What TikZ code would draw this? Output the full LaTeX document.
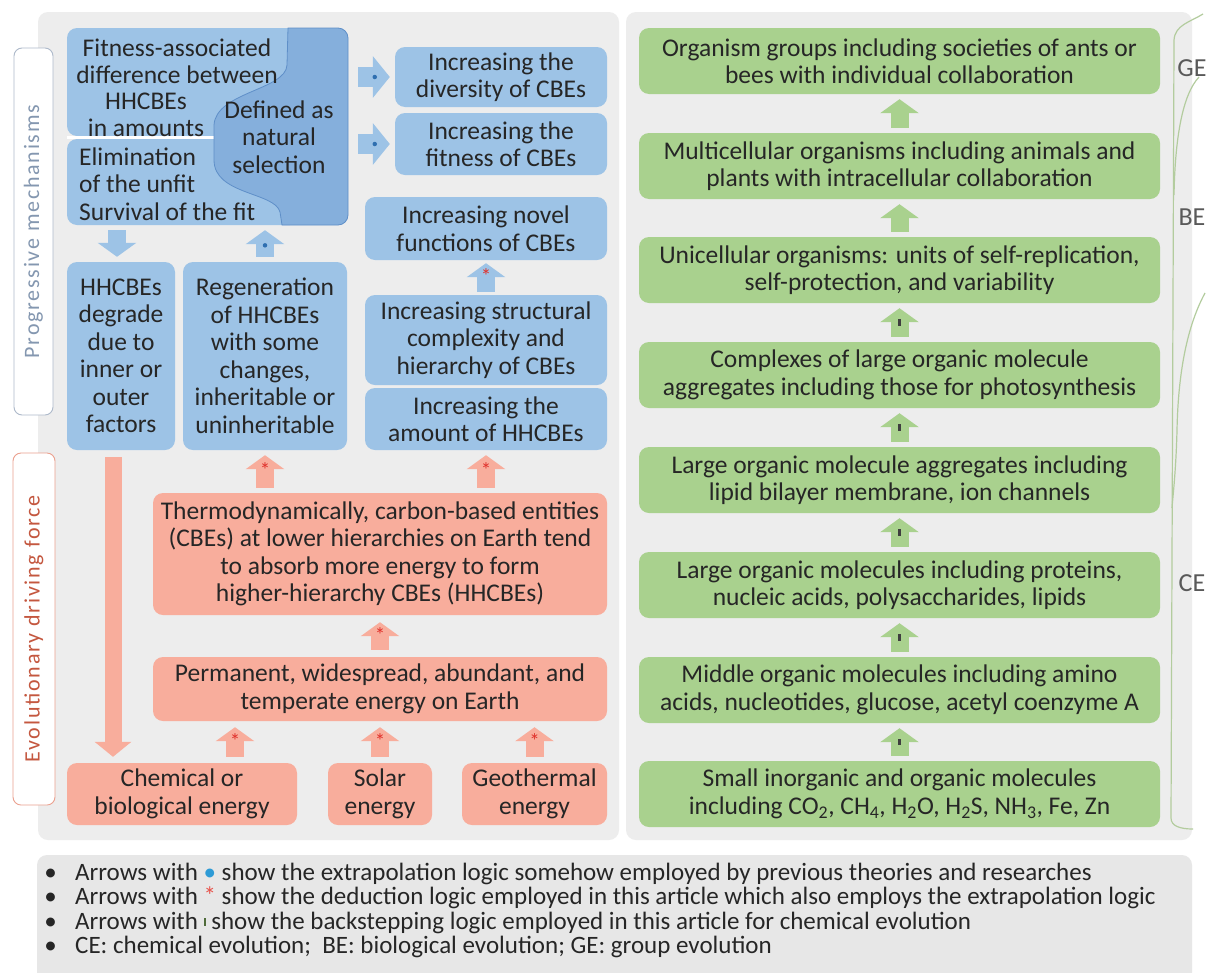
\documentclass[tikz,border=0pt]{standalone}
\usepackage{fontspec}
\setmainfont{Carlito}
\newfontfamily\spacedfont[LetterSpace=8]{Carlito}
\usetikzlibrary{arrows.meta}
\definecolor{panel}{HTML}{EDEDED}
\definecolor{legendbg}{HTML}{E7E7E7}
\definecolor{bluebox}{HTML}{9DC3E6}
\definecolor{bluedark}{HTML}{85AFDC}
\definecolor{blueedge}{HTML}{5F8FC8}
\definecolor{salmon}{HTML}{F8AD9C}
\definecolor{greenbox}{HTML}{A9D18E}
\definecolor{txt}{HTML}{262626}
\definecolor{pmtext}{HTML}{8497B0}
\definecolor{pmedge}{HTML}{ADB9CA}
\definecolor{edftext}{HTML}{C4573F}
\definecolor{edfedge}{HTML}{EBA08E}
\definecolor{dotblue}{HTML}{2F6FB0}
\definecolor{legdot}{HTML}{2E9BD6}
\definecolor{astred}{HTML}{E0302A}
\definecolor{legred}{HTML}{E8524A}
\definecolor{tickc}{HTML}{3F3F3F}
\definecolor{legtick}{HTML}{4F6B3A}
\definecolor{bracec}{HTML}{B3CC9E}
\definecolor{labgray}{HTML}{595959}
\newcommand\boxfont{\fontsize{25.5}{27.5}\selectfont}
\newcommand\legfont{\fontsize{25}{24}\selectfont}
\newcommand\legdotmark{\textcolor{legdot}{•}}
\newcommand\legastmark{\textcolor{legred}{*}}
\newcommand\legtickmark{\textcolor{legtick}{\rule[3.5pt]{2pt}{7.5pt}}}
\begin{document}
\begin{tikzpicture}[x=1pt,y=-1pt,
  cbox/.style={rounded corners=10pt, inner sep=0pt, align=center, text=txt, font=\boxfont},
  bb/.style={cbox, fill=bluebox},
  sb/.style={cbox, fill=salmon},
  gb/.style={cbox, fill=greenbox, minimum width=521pt, minimum height=66pt},
  uparr/.style={line width=18pt, -{Triangle[width=38pt,length=14pt]}, shorten <=5pt, shorten >=5pt},
  barr/.style={uparr, draw=bluebox},
  sarr/.style={uparr, draw=salmon},
  garr/.style={uparr, draw=greenbox},
  rarr/.style={line width=20pt, draw=bluebox, -{Triangle[width=41pt,length=17pt]}, shorten <=10pt, shorten >=5pt},
  ast/.style={inner sep=0pt, text=astred, font=\fontsize{21}{21}\selectfont},
  bdot/.style={circle, fill=dotblue, inner sep=0pt, minimum size=4.5pt},
  tickmark/.style={fill=tickc, inner sep=0pt, minimum width=2.2pt, minimum height=6.5pt},
  lab/.style={text=labgray, font=\fontsize{26}{26}\selectfont, inner sep=0pt},
  legtext/.style={anchor=base west, inner sep=0pt, font=\legfont, text=txt},
  bracel/.style={draw=bracec, line width=1.2pt}
]
\useasboundingbox (0,0) rectangle (1209,972);
\fill[white] (0,0) rectangle (1209,972);

% panels
\fill[panel, rounded corners=10pt] (38,12) rectangle (619,840);
\fill[panel, rounded corners=10pt] (626,12) rectangle (1192,840);
\fill[legendbg, rounded corners=10pt] (37,855) rectangle (1192,995);

% side labels
\node[draw=pmedge, fill=white, rounded corners=8pt, minimum width=39pt, minimum height=367pt, line width=0.9pt, inner sep=0pt] (pmbox) at (33.5,231.5) {};
\node[rotate=90, text=pmtext, inner sep=0pt, font=\spacedfont\fontsize{22}{22}\selectfont] (pmtxt) at (pmbox.center) {Progressive mechanisms};
\node[draw=edfedge, fill=white, rounded corners=8pt, minimum width=42pt, minimum height=352pt, line width=0.9pt, inner sep=0pt] (edfbox) at (34,629) {};
\node[rotate=90, text=edftext, inner sep=0pt, font=\spacedfont\fontsize{22}{22}\selectfont] (edftxt) at (edfbox.center) {Evolutionary driving force};

% top-left composite
\fill[bluebox, rounded corners=10pt] (67,28) rectangle (300,136);
\fill[bluebox, rounded corners=10pt] (67,139) rectangle (300,225);
\fill[white] (67,136) rectangle (300,139);
\filldraw[fill=bluedark, draw=blueedge, line width=0.8pt]
  (288,28) -- (338,28) .. controls (343.5,28) and (348,32.5) .. (348,38)
  -- (348,215) .. controls (348,220.5) and (343.5,225) .. (338,225)
  -- (282,225) -- (280,212) .. controls (275,192) and (214,195) .. (214,160)
  -- (214,125) .. controls (216,92) and (286,90) .. (287,65) -- cycle;
\node[inner sep=0pt, minimum width=281pt, minimum height=197pt] (sel) at (207.5,126.5) {};
\node[cbox] (t1) at (177,61) {Fitness-associated\\difference between};
\node[cbox] (t2) at (146,115) {HHCBEs\\in amounts};
\node[cbox] (t3) at (279,137) {Defined as\\natural\\selection};
\node[cbox, align=left, anchor=west] (t4) at (79,184) {Elimination\\of the unfit\\Survival of the fit};

% blue boxes
\node[bb, minimum width=212pt, minimum height=60pt] (div) at (501,77) {Increasing the\\diversity of CBEs};
\node[bb, minimum width=212pt, minimum height=62pt] (fit) at (501,144) {Increasing the\\fitness of CBEs};
\node[bb, minimum width=242pt, minimum height=63pt] (novel) at (486,228.5) {Increasing novel\\functions of CBEs};
\node[bb, minimum width=242pt, minimum height=90pt] (struct) at (486,340) {Increasing structural\\complexity and\\hierarchy of CBEs};
\node[bb, minimum width=242pt, minimum height=62pt] (amount) at (486,419) {Increasing the\\amount of HHCBEs};
\node[bb, minimum width=108pt, minimum height=188pt] (deg) at (121,356) {HHCBEs\\degrade\\due to\\inner or\\outer\\factors};
\node[bb, minimum width=164pt, minimum height=188pt] (regen) at (265,356) {Regeneration\\of HHCBEs\\with some\\changes,\\inheritable or\\uninheritable};

% salmon boxes
\node[sb, minimum width=454pt, minimum height=122pt] (thermo) at (380,554) {Thermodynamically, carbon-based entities\\(CBEs) at lower hierarchies on Earth tend\\to absorb more energy to form\\higher-hierarchy CBEs (HHCBEs)};
\node[sb, minimum width=454pt, minimum height=64pt] (perm) at (380,689) {Permanent, widespread, abundant, and\\temperate energy on Earth};
\node[sb, minimum width=230pt, minimum height=62pt] (chem) at (182,794) {Chemical or\\biological energy};
\node[sb, minimum width=104pt, minimum height=62pt] (solar) at (380,794) {Solar\\energy};
\node[sb, minimum width=145pt, minimum height=62pt] (geo) at (534.5,794) {Geothermal\\energy};

% green boxes
\node[gb] (g1) at (899.5,61) {Organism groups including societies of ants or\\bees with individual collaboration};
\node[gb] (g2) at (899.5,166) {Multicellular organisms including animals and\\plants with intracellular collaboration};
\node[gb] (g3) at (899.5,270) {Unicellular organisms: units of self-replication,\\self-protection, and variability};
\node[gb] (g4) at (899.5,375) {Complexes of large organic molecule\\aggregates including those for photosynthesis};
\node[gb] (g5) at (899.5,480) {Large organic molecule aggregates including\\lipid bilayer membrane, ion channels};
\node[gb] (g6) at (899.5,585) {Large organic molecules including proteins,\\nucleic acids, polysaccharides, lipids};
\node[gb] (g7) at (899.5,690) {Middle organic molecules including amino\\acids, nucleotides, glucose, acetyl coenzyme A};
\node[gb] (g8) at (899.5,794) {Small inorganic and organic molecules\\including CO\textsubscript{2}, CH\textsubscript{4}, H\textsubscript{2}O, H\textsubscript{2}S, NH\textsubscript{3}, Fe, Zn};

% green arrows
\draw[garr] (g2) -- (g1);
\draw[garr] (g3) -- (g2);
\foreach \a/\b in {g4/g3, g5/g4, g6/g5, g7/g6, g8/g7}
  \draw[garr] (\a) -- (\b) node[midway, tickmark] {};

% blue arrows
\coordinate (dA) at ([xshift=-4pt]deg.north);
\draw[barr] (dA |- sel.south) -- (dA);
\draw[barr] (regen.north) -- (regen.north |- sel.south) node[pos=0.45, bdot] {};
\draw[rarr] (sel.east |- div.west) -- (div.west) node[pos=0.57, bdot] {};
\draw[rarr] (sel.east |- fit.west) -- (fit.west) node[pos=0.57, bdot] {};
\draw[barr, shorten <=3pt, shorten >=3pt] (struct) -- (novel) node[pos=0.55, ast] {*};

% salmon arrows
\draw[sarr] (regen.south |- thermo.north) -- (regen.south) node[pos=0.53, ast] {*};
\draw[sarr] (amount.south |- thermo.north) -- (amount.south) node[pos=0.53, ast] {*};
\draw[sarr, shorten <=7pt, shorten >=7pt] (perm) -- (thermo) node[pos=0.53, ast] {*};
\coordinate (cA) at (235,0);
\draw[sarr, shorten <=6pt, shorten >=6pt] (cA |- chem.north) -- (cA |- perm.south) node[pos=0.53, ast] {*};
\draw[sarr, shorten <=6pt, shorten >=6pt] (solar) -- (perm) node[pos=0.53, ast] {*};
\draw[sarr, shorten <=6pt, shorten >=6pt] (geo.north) -- (geo.north |- perm.south) node[pos=0.53, ast] {*};
\coordinate (bx) at (113,0);
\draw[line width=17pt, draw=salmon, -{Triangle[width=36pt,length=15pt]}, shorten <=7pt, shorten >=6pt] (bx |- deg.south) -- (bx |- chem.north);

% braces
\draw[bracel] (1203,14) .. controls (1190,22) and (1175,25) .. (1174,40) -- (1171,818) .. controls (1171,826) and (1180,829) .. (1193,829);
\draw[bracel] (1199,77) .. controls (1182,95) and (1175,140) .. (1174,195);
\draw[bracel] (1205,293) .. controls (1185,330) and (1178,380) .. (1177,430) .. controls (1176,470) and (1173,495) .. (1172,508);
\node[lab] (ge) at (1192,68) {GE};
\node[lab] (be) at (1192,217) {BE};
\node[lab] (ce) at (1192,583) {CE};

% legend
\foreach \yy/\nm in {880/b1, 904.5/b2, 929/b3, 953.5/b4}
  \node[legtext] (\nm) at (44.2,\yy) {•};
\node[legtext] (l1) at (75,880) {Arrows with \legdotmark{} show the extrapolation logic somehow employed by previous theories and researches};
\node[legtext] (l2) at (75,904.5) {Arrows with \legastmark{} show the deduction logic employed in this article which also employs the extrapolation logic};
\node[legtext] (l3) at (75,929) {Arrows with \legtickmark{}\ show the backstepping logic employed in this article for chemical evolution};
\node[legtext] (l4) at (75,953.5) {CE: chemical evolution;~~BE: biological evolution; GE: group evolution};
\end{tikzpicture}
\end{document}
